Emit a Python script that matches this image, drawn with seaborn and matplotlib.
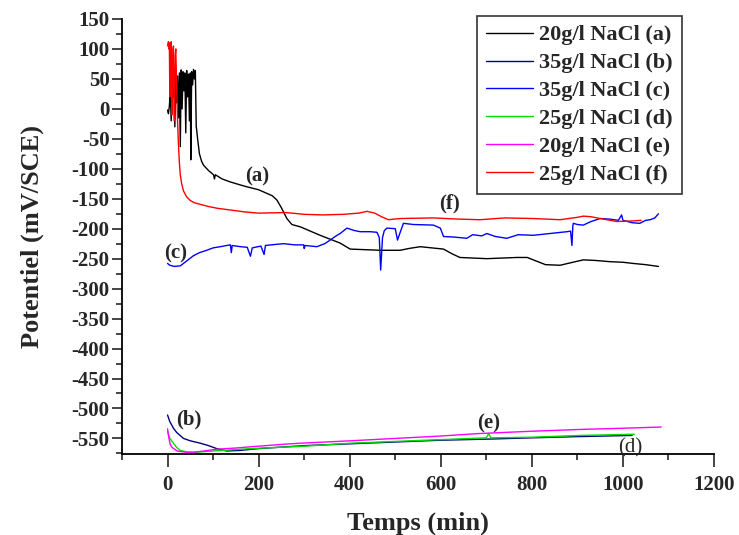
import numpy as np
import pandas as pd
import seaborn as sns
import matplotlib.pyplot as plt
from matplotlib.ticker import MultipleLocator

# --- data (time in min, potential in mV/SCE) ---
t_a = [0, 2, 4, 6, 8, 10, 12, 14, 16, 18, 20, 22, 24, 26, 28, 30, 32, 34, 36, 38, 40,
       42, 44, 46, 48, 50, 51, 53, 55, 57, 59, 61, 63, 64, 66, 70, 75, 79, 90, 101, 103,
       105, 120, 138, 160, 174, 200, 218, 230, 240, 250, 262, 273, 292, 335, 379, 401,
       467, 511, 530, 555, 580, 606, 625, 642, 701, 767, 790, 803, 830, 862, 890, 913,
       940, 971, 1000, 1023, 1050, 1078]
v_a = [-2, -8, 5, 30, -20, 55, 20, 60, -30, 62, 10, 55, -15, 60, -63, 65, 0, 62, 30, 60,
       -40, 64, 20, 58, -20, 60, -85, 62, 40, 66, 50, 64, -30, -35, -50, -75, -88, -94,
       -103, -110, -117, -110, -117, -122, -127, -130, -135, -141, -145, -152, -165,
       -183, -193, -197, -211, -224, -234, -236, -236, -233, -230, -232, -234, -242,
       -248, -250, -248, -248, -252, -260, -261, -256, -252, -253, -255, -256, -258,
       -260, -263]

t_b = [0, 5, 13, 20, 35, 50, 72, 90, 108, 130, 160, 200, 300, 400, 500, 600, 711, 800,
       900, 1020]
v_b = [-511, -522, -533, -540, -550, -554, -558, -562, -567, -571, -570, -567, -562,
       -559, -556, -553, -551, -549, -547, -545]

t_c = [0, 5, 15, 28, 40, 57, 70, 86, 100, 116, 130, 138, 140, 142, 160, 175, 182, 186,
       205, 212, 215, 240, 255, 280, 299, 300, 302, 328, 345, 357, 370, 379, 394, 410,
       423, 445, 460, 465, 468, 472, 476, 482, 500, 505, 509, 518, 540, 584, 599, 606,
       630, 657, 670, 690, 701, 720, 745, 770, 803, 840, 877, 885, 888, 890, 891, 900,
       913, 930, 950, 971, 990, 997, 1000, 1020, 1037, 1050, 1060, 1070, 1078]
v_c = [-258, -261, -263, -262, -255, -245, -240, -236, -232, -230, -228, -227, -240,
       -228, -230, -231, -246, -232, -229, -243, -228, -226, -225, -227, -227, -233,
       -228, -230, -225, -219, -212, -208, -199, -203, -205, -205, -206, -215, -269,
       -215, -203, -199, -200, -219, -210, -191, -193, -194, -199, -213, -214, -216,
       -210, -212, -208, -213, -216, -210, -211, -208, -205, -204, -228, -195, -191,
       -193, -194, -188, -183, -184, -186, -177, -186, -190, -191, -186, -185, -182,
       -175]

t_d = [0, 5, 13, 20, 28, 45, 64, 100, 182, 300, 401, 500, 600, 700, 705, 710, 800,
       907, 1025]
v_d = [-538, -550, -558, -565, -570, -573, -573, -571, -567, -563, -558, -555, -552,
       -549, -542, -549, -548, -545, -543]

t_e = [0, 3, 6, 10, 21, 40, 57, 80, 108, 150, 182, 250, 291, 401, 500, 600, 680, 800,
       907, 1000, 1084]
v_e = [-534, -550, -560, -565, -571, -573, -573, -571, -568, -566, -564, -560, -558,
       -554, -550, -546, -542, -538, -535, -533, -531]

t_f = [0, 2, 3, 4, 5, 7, 8, 9, 10, 12, 13, 14, 15, 17, 18, 20, 22, 24, 26, 28, 31, 35,
       42, 50, 60, 75, 90, 110, 140, 170, 200, 260, 300, 340, 386, 420, 438, 455, 470,
       485, 511, 583, 640, 686, 740, 803, 862, 900, 913, 930, 950, 986, 1023, 1040]
v_f = [105, 112, 100, 110, 20, 95, 112, 60, -10, 100, 105, 30, -20, 90, 100, 40, -20,
       -60, -90, -110, -125, -137, -147, -153, -157, -160, -163, -166, -169, -172, -174,
       -173, -176, -177, -176, -174, -171, -174, -180, -185, -183, -182, -184, -185,
       -182, -183, -185, -181, -179, -180, -183, -188, -187, -186]

labels = ["20g/l NaCl (a)", "35g/l NaCl (b)", "35g/l NaCl (c)",
          "25g/l NaCl (d)", "20g/l NaCl (e)", "25g/l NaCl (f)"]
colors = ["black", "#000080", "#0000ff", "#00dd00", "#ff00ff", "#ff0000"]

# curve tags: text, t, potential
tag_text = ["(a)", "(f)", "(c)", "(b)", "(e)", "(d)"]
tag_t = [196, 620, 18, 46, 705, 1017]
tag_v = [-113, -158, -242, -519, -525, -565]

series = [(t_a, v_a), (t_b, v_b), (t_c, v_c), (t_d, v_d), (t_e, v_e), (t_f, v_f)]

sns.set_style("ticks")
plt.rcParams["font.family"] = ["Liberation Serif", "DejaVu Serif"]
plt.rcParams["font.weight"] = "bold"
plt.rcParams["axes.unicode_minus"] = False

fig = plt.figure(figsize=(7.39, 5.35), dpi=100)
ax = fig.add_axes([0.1651, 0.1514, 0.8011, 0.8131])

for (t, v), lab, col in zip(series, labels, colors):
    df = pd.DataFrame({"t": t, "v": v})
    sns.lineplot(data=df, x="t", y="v", ax=ax, color=col, label=lab,
                 estimator=None, sort=False, linewidth=1.0)

for txt, x, y in zip(tag_text, tag_t, tag_v):
    w = "normal" if txt == "(d)" else "bold"
    ax.text(x, y, txt, ha="center", va="center", fontsize=15, fontweight=w,
            clip_on=False)

ax.set_xlim(-100, 1200)
ax.set_ylim(-576, 150)
ax.xaxis.set_major_locator(MultipleLocator(200))
ax.xaxis.set_minor_locator(MultipleLocator(100))
ax.yaxis.set_major_locator(MultipleLocator(50))
ax.yaxis.set_minor_locator(MultipleLocator(25))
ax.set_yticks(np.arange(-550, 151, 50))
ax.tick_params(which="major", direction="out", length=8, width=1.2, labelsize=15)
ax.tick_params(axis="y", which="major", length=7, pad=2)
ax.tick_params(axis="x", which="major", length=9, pad=6)
ax.tick_params(which="minor", direction="out", length=4, width=1.2)
for lb in ax.get_xticklabels() + ax.get_yticklabels():
    lb.set_fontweight("bold")

sns.despine(ax=ax)
for s in ["left", "bottom"]:
    ax.spines[s].set_linewidth(1.3)
    ax.spines[s].set_color("black")

ax.set_xlabel("Temps (min)", fontsize=19, fontweight="bold", labelpad=12)
ax.set_ylabel("Potentiel (mV/SCE)", fontsize=19, fontweight="bold", labelpad=20)

leg = ax.legend(loc="upper right", bbox_to_anchor=(682 / 739, 1 - 16 / 535),
                bbox_transform=fig.transFigure, fontsize=16, frameon=True,
                fancybox=False, handlelength=2.1, labelspacing=0.33,
                borderaxespad=0, borderpad=0.4, handletextpad=0.3)
leg.get_frame().set_edgecolor("black")
leg.get_frame().set_linewidth(1.2)
for tx in leg.get_texts():
    tx.set_fontweight("bold")

fig.savefig("out.png", dpi=100)
